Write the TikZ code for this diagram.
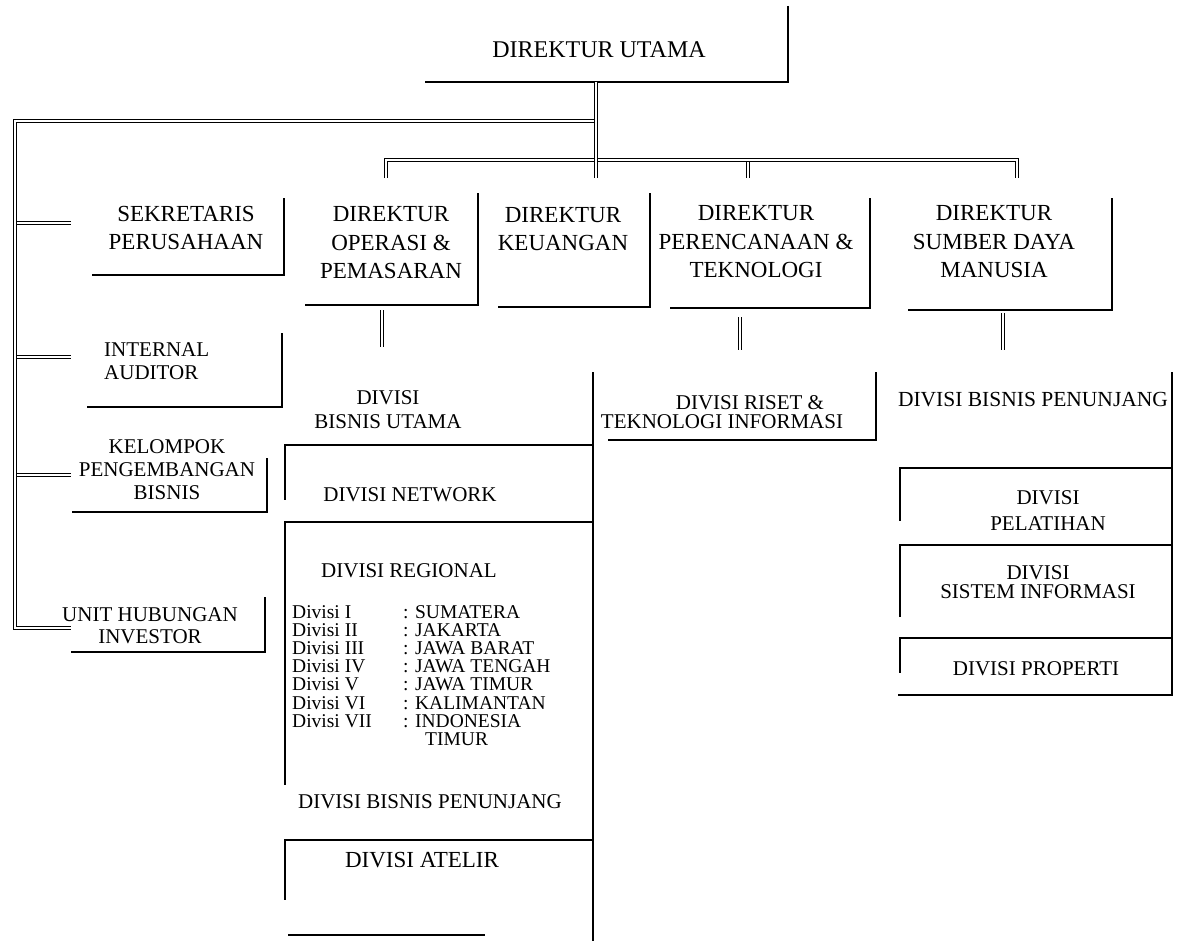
\documentclass[tikz,border=0pt]{standalone}
\usepackage{fontspec}
\setmainfont{Liberation Serif}
\begin{document}
\begin{tikzpicture}[x=1pt,y=-1pt,
  boxline/.style={line width=2pt},
  dbl/.style={double, double distance=2.6pt, line width=1.1pt},
  head/.style={font=\fontsize{24}{28}\selectfont, inner sep=0pt},
  dirtext/.style={font=\fontsize{23}{28.5}\selectfont, align=center, inner sep=0pt},
  unit/.style={font=\fontsize{21}{23}\selectfont, align=center, inner sep=0pt},
  listtext/.style={font=\fontsize{19.5}{18}\selectfont, inner sep=0pt, anchor=base west}]
  \path[fill=white] (0,0) rectangle (1177,941);
  % direktur utama
  \node[head] (du) at (599,50) {DIREKTUR UTAMA};
  \draw[boxline] (788,6) |- (425,82);
  \coordinate (du-foot) at (596,82);
  \coordinate (hub) at (596,178);
  % staf di kiri
  \draw[dbl] (du-foot |- 0,121) -| (15,628) -- (71,628);
  \foreach \y in {223,357,475}
    \draw[dbl] (17.4,\y) -- (71,\y);
  % garis para direktur
  \draw[dbl] (386,178) |- (1017,160) -- (1017,178);
  \draw[dbl] (748,162.4) -- (748,178);
  \draw[dbl] (du-foot) -- (hub);
  % kotak staf
  \node[dirtext] (sek) at (186,228) {SEKRETARIS\\PERUSAHAAN};
  \draw[boxline] (284,198) |- (92,275);
  \node[unit, align=left, anchor=west] (ia) at (104,361) {INTERNAL\\AUDITOR};
  \draw[boxline] (282,333) |- (87,407);
  \node[unit] (kpb) at (167,470) {KELOMPOK\\PENGEMBANGAN\\BISNIS};
  \draw[boxline] (267,458) |- (72,512);
  \node[unit, font=\fontsize{21}{22}\selectfont] (uhi) at (150,626) {UNIT HUBUNGAN\\INVESTOR};
  \draw[boxline] (265,597) |- (71,652);
  % kotak direktur
  \node[dirtext] (dop) at (391,243) {DIREKTUR\\OPERASI \&\\PEMASARAN};
  \draw[boxline] (478,193) |- (305,305);
  \node[dirtext] (dk) at (563,229) {DIREKTUR\\KEUANGAN};
  \draw[boxline] (650,193) |- (498,307);
  \node[dirtext] (dpt) at (756,242) {DIREKTUR\\PERENCANAAN \&\\TEKNOLOGI};
  \draw[boxline] (870,198) |- (670,308);
  \node[dirtext] (dsdm) at (994,242) {DIREKTUR\\SUMBER DAYA\\MANUSIA};
  \draw[boxline] (1112,198) |- (908,310);
  \coordinate (dop-foot) at (382,310);
  \coordinate (dpt-foot) at (740,317);
  \coordinate (dsdm-foot) at (1003,313);
  \draw[dbl] (dop-foot) -- ++(0,37);
  \draw[dbl] (dpt-foot) -- ++(0,33);
  \draw[dbl] (dsdm-foot) -- ++(0,37);
  % divisi di bawah direktur operasi
  \draw[boxline] (593,372) -- (593,941);
  \node[unit, font=\fontsize{21}{24}\selectfont] (bu) at (388,410) {DIVISI\\BISNIS UTAMA};
  \draw[boxline] (593,445) -| (285,500);
  \node[unit] (net) at (410,495) {DIVISI NETWORK};
  \draw[boxline] (593,522) -| (285,785);
  \node[unit] (reg) at (409,571) {DIVISI REGIONAL};
  \foreach \n/\r [count=\i from 0] in {I/SUMATERA, II/JAKARTA, III/JAWA BARAT,
      IV/JAWA TENGAH, V/JAWA TIMUR, VI/KALIMANTAN, VII/INDONESIA} {
    \node[listtext] (rn\i) at (292,{618.5+18.1*\i}) {Divisi \n};
    \node[listtext] (rr\i) at (403,{618.5+18.1*\i}) {: \r};
  }
  \node[listtext] (rr7) at (425,{618.5+18.1*7}) {TIMUR};
  \node[unit] (bp1) at (430,802) {DIVISI BISNIS PENUNJANG};
  \draw[boxline] (593,840) -| (285,900);
  \node[unit, font=\fontsize{23}{26}\selectfont] (atl) at (422,860) {DIVISI ATELIR};
  \draw[boxline] (288,935) -- (485,935);
  % divisi riset
  \node[unit] (ris1) at (750,403) {DIVISI RISET \&};
  \node[unit] (ris2) at (722,422) {TEKNOLOGI INFORMASI};
  \draw[boxline] (876,372) |- (608,440);
  % divisi di bawah direktur sdm
  \node[unit, font=\fontsize{21.5}{23}\selectfont] (bp2) at (1033,400) {DIVISI BISNIS PENUNJANG};
  \draw[boxline] (1172,372) |- (898,695);
  \draw[boxline] (1172,468) -| (900,521);
  \node[unit, font=\fontsize{21}{26}\selectfont] (pel) at (1048,511) {DIVISI\\PELATIHAN};
  \draw[boxline] (1172,545) -| (900,617);
  \node[unit, font=\fontsize{21}{19.5}\selectfont] (si) at (1038,582) {DIVISI\\SISTEM INFORMASI};
  \draw[boxline] (1172,638) -| (900,673);
  \node[unit] (prop) at (1036,669) {DIVISI PROPERTI};
\end{tikzpicture}
\end{document}
